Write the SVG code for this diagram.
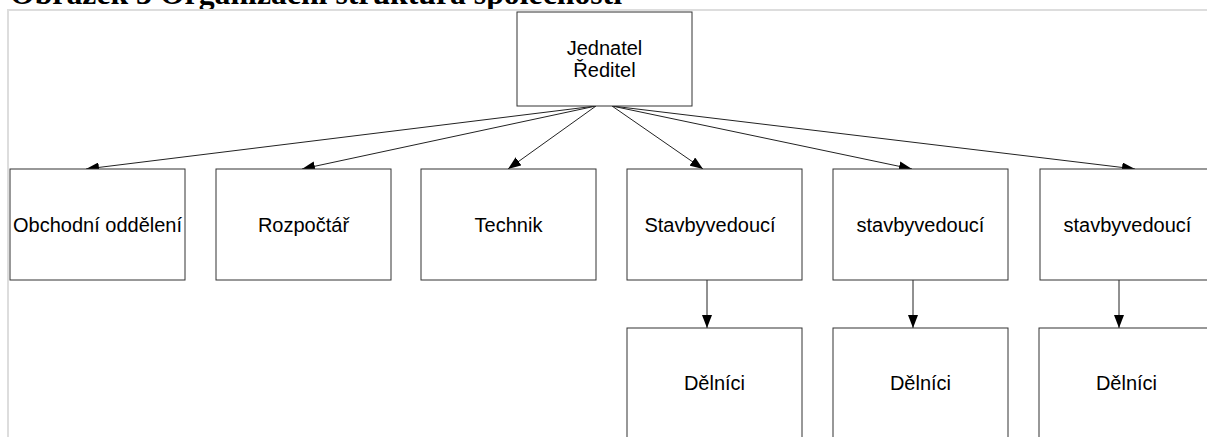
<svg xmlns="http://www.w3.org/2000/svg" width="1207" height="437" viewBox="0 0 1207 437">
  <style>
    .box { fill: #ffffff; stroke: #333333; stroke-width: 1; }
    .lbl { font-family: "Liberation Sans", Arial, sans-serif; font-size: 20px; fill: #000000; text-anchor: middle; }
    .edge { stroke: #222222; stroke-width: 1; fill: none; marker-end: url(#arrow); }
    .title { font-family: "Liberation Serif", "Times New Roman", serif; font-weight: bold; font-size: 32px; fill: #000000; }
  </style>
  <defs>
    <marker id="arrow" markerUnits="userSpaceOnUse" markerWidth="13" markerHeight="10" refX="13" refY="5" orient="auto">
      <path d="M0,0 L13,5 L0,10 z" fill="#000000"/>
    </marker>
  </defs>

  <rect x="0" y="0" width="1207" height="437" fill="#ffffff"/>

  <!-- caption above the chart -->
  <text class="title" x="10" y="4" textLength="612" lengthAdjust="spacingAndGlyphs">Obrázek 3 Organizační struktura společnosti</text>

  <!-- page frame -->
  <path d="M8,440 L8,10 L1210,10" fill="none" stroke="#dddddd" stroke-width="2"/>

  <!-- connectors -->
  <g id="connectors">
    <line class="edge" x1="596" y1="106" x2="86" y2="169"/>
    <line class="edge" x1="596" y1="106" x2="302" y2="169"/>
    <line class="edge" x1="596" y1="106" x2="508" y2="169"/>
    <line class="edge" x1="612" y1="106" x2="703" y2="169"/>
    <line class="edge" x1="612" y1="106" x2="912" y2="169"/>
    <line class="edge" x1="612" y1="106" x2="1135" y2="169"/>
    <line class="edge" x1="707" y1="280" x2="707" y2="328"/>
    <line class="edge" x1="913" y1="280" x2="913" y2="328"/>
    <line class="edge" x1="1119" y1="280" x2="1119" y2="328"/>
  </g>

  <g id="jednatel">
    <rect class="box" x="517" y="12" width="175" height="94"/>
    <text class="lbl" x="604.5" y="55">Jednatel</text>
    <text class="lbl" x="604.5" y="77">Ředitel</text>
  </g>

  <g id="obchodni">
    <rect class="box" x="10" y="169" width="175" height="111"/>
    <text class="lbl" x="97.5" y="232">Obchodní oddělení</text>
  </g>
  <g id="rozpoctar">
    <rect class="box" x="216" y="169" width="175" height="111"/>
    <text class="lbl" x="303.5" y="232">Rozpočtář</text>
  </g>
  <g id="technik">
    <rect class="box" x="421" y="169" width="175" height="111"/>
    <text class="lbl" x="508.5" y="232">Technik</text>
  </g>
  <g id="stavbyvedouci-1">
    <rect class="box" x="627" y="169" width="175" height="111"/>
    <text class="lbl" x="710" y="232">Stavbyvedoucí</text>
  </g>
  <g id="stavbyvedouci-2">
    <rect class="box" x="833" y="169" width="175" height="111"/>
    <text class="lbl" x="920.5" y="232">stavbyvedoucí</text>
  </g>
  <g id="stavbyvedouci-3">
    <rect class="box" x="1040" y="169" width="175" height="111"/>
    <text class="lbl" x="1127.5" y="232">stavbyvedoucí</text>
  </g>

  <g id="delnici-1">
    <rect class="box" x="627" y="328" width="175" height="130"/>
    <text class="lbl" x="714.5" y="390">Dělníci</text>
  </g>
  <g id="delnici-2">
    <rect class="box" x="833" y="328" width="175" height="130"/>
    <text class="lbl" x="920.5" y="390">Dělníci</text>
  </g>
  <g id="delnici-3">
    <rect class="box" x="1039" y="328" width="175" height="130"/>
    <text class="lbl" x="1126.5" y="390">Dělníci</text>
  </g>
</svg>
